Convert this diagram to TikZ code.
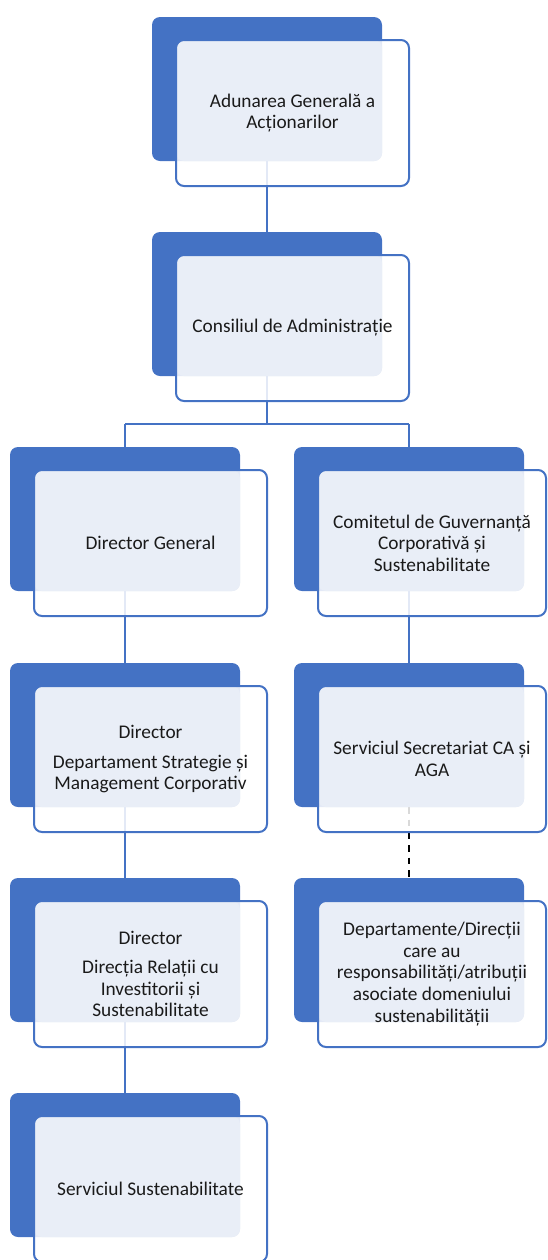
\documentclass[tikz,border=0pt]{standalone}
\usepackage{fontspec}
\setmainfont{Carlito}
\usetikzlibrary{calc}
\definecolor{accent}{HTML}{4472C4}
\definecolor{lightfill}{HTML}{E9EEF7}
\definecolor{txtc}{HTML}{1A1A1A}
\tikzset{
  backshape/.style={anchor=north west, rectangle, rounded corners=6pt, fill=accent,
    minimum width=172.5pt, minimum height=108pt, inner sep=0pt, outer sep=0pt},
  frontshape/.style={anchor=north west, rectangle, rounded corners=6pt, fill=white, fill opacity=0.85,
    minimum height=109.5pt, inner sep=0pt, outer sep=0pt},
  frontborder/.style={draw=accent, line width=1.5pt, rounded corners=6pt},
  lightarea/.style={fill=lightfill, rounded corners=6pt},
  conn/.style={draw=accent, line width=1.5pt},
  dconn/.style={draw=black, line width=1.8pt, dash pattern=on 5pt off 4.5pt},
  txtnode/.style={align=center, text=txtc, inner sep=0pt,
    font=\fontsize{14.5pt}{16.2pt}\selectfont},
}
\newcommand\mkback[3]{\node[backshape] (#1) at (#2,#3) {};}
\newcommand\mkfront[4]{%
  \node[frontshape, minimum width=#3] (#1) at ($(#2.north west)+(24,23)$) {};
  \path[lightarea] (#1.north west) rectangle (#2.south east);
  \path[frontborder] (#1.north west) rectangle (#1.south east);
  \node[txtnode] (#1t) at (#1.center) {#4};
}
\begin{document}
\begin{tikzpicture}[x=0.75pt, y=-0.75pt]
\useasboundingbox (0,0) rectangle (547,1260);
% back boxes
\mkback{bA}{152}{17}
\mkback{bB}{152}{232}
\mkback{bC}{10}{447}
\mkback{bD}{294}{447}
\mkback{bE}{10}{663}
\mkback{bF}{294}{663}
\mkback{bG}{10}{878}
\mkback{bH}{294}{878}
\mkback{bI}{10}{1093}
% connectors
\coordinate (split) at ($(bB.south)+(0,48)$);
\draw[conn] (bA.south) -- (bB.north);
\draw[conn] (bB.south) -- (split);
\draw[conn] (split -| bC.north) -- (split -| bD.north);
\draw[conn] (split -| bC.north) -- (bC.north);
\draw[conn] (split -| bD.north) -- (bD.north);
\draw[conn] (bC.south) -- (bE.north);
\draw[conn] (bE.south) -- (bG.north);
\draw[conn] (bG.south) -- (bI.north);
\draw[conn] (bD.south) -- (bF.north);
\draw[dconn] (bF.south) -- (bH.north);
% front boxes
\mkfront{fA}{bA}{174.75pt}{Adunarea Generală a\\Acționarilor}
\mkfront{fB}{bB}{174.75pt}{Consiliul de Administrație}
\mkfront{fC}{bC}{174.75pt}{Director General}
\mkfront{fD}{bD}{171pt}{Comitetul de Guvernanță\\Corporativă și\\Sustenabilitate}
\mkfront{fE}{bE}{174.75pt}{Director\\[6pt]Departament Strategie și\\Management Corporativ}
\mkfront{fF}{bF}{171pt}{Serviciul Secretariat CA și\\AGA}
\mkfront{fG}{bG}{174.75pt}{Director\\[6pt]Direcția Relații cu\\Investitorii și\\Sustenabilitate}
\mkfront{fH}{bH}{171pt}{Departamente/Direcții\\care au\\responsabilități/atribuții\\asociate domeniului\\sustenabilității}
\mkfront{fI}{bI}{174.75pt}{Serviciul Sustenabilitate}
\end{tikzpicture}
\end{document}
